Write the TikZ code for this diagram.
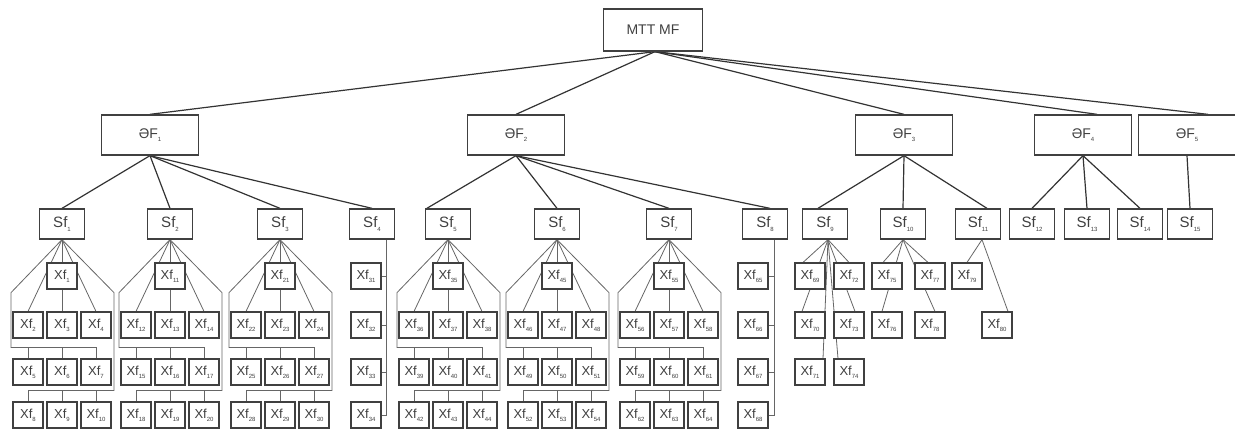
\documentclass[tikz,border=0pt]{standalone}
\usepackage{fontspec}
\setmainfont{Liberation Sans}
\usetikzlibrary{calc, backgrounds}
\newcommand{\sub}[1]{\raisebox{-0.45ex}{\fontsize{6}{6}\selectfont #1}}

\begin{document}
\begin{tikzpicture}[x=1pt, y=-1pt,
    box/.style = {draw=black!75, line width=1.3pt, fill=white, inner sep=0pt, text=black!75},
    top/.style = {box, minimum width=99, minimum height=42, font=\fontsize{14}{16}\selectfont},
    ef/.style = {box, minimum width=97, minimum height=40, font=\fontsize{14}{16}\selectfont},
    sf/.style = {box, minimum width=45, minimum height=30, font=\fontsize{15}{16}\selectfont},
    xf/.style = {box, line width=1.1pt, minimum width=30, minimum height=26, font=\fontsize{13}{14}\selectfont},
    link/.style = {draw=black!80, line width=1.2pt},
    twig/.style = {draw=black!60, line width=0.8pt}]
	\useasboundingbox (0,0) rectangle (1235,430);
	% levels 1 and 2
	\node[top] (m) at (653,30) {MTT MF};
	\node[ef] (e1) at (150,135) {ƏF\sub{1}};
	\node[ef] (e2) at (516,135) {ƏF\sub{2}};
	\node[ef] (e3) at (904,135) {ƏF\sub{3}};
	\node[ef] (e4) at (1083,135) {ƏF\sub{4}};
	\node[ef] (e5) at (1187,135) {ƏF\sub{5}};
	% groups with two brackets
	\foreach \cx/\s/\n in {62/1/1, 170/2/11, 280/3/21, 448/5/35, 557/6/45, 669/7/55} {
		\node[sf] (s\s) at (\cx,224) {Sf\sub{\s}};
		\foreach \k/\dx/\yy in {0/0/276, 1/-34/325, 2/0/325, 3/34/325, 4/-34/372, 5/0/372, 6/34/372, 7/-34/415, 8/0/415, 9/34/415} {
			\pgfmathtruncatemacro\i{\n+\k}
			\node[xf] (x\i) at ({\cx+(\dx)},\yy) {Xf\sub{\i}};
		}
	}
	% column groups
	\node[sf] (s4) at (372,224) {Sf\sub{4}};
	\foreach \i/\yy in {31/276, 32/325, 33/372, 34/415}
		\node[xf] (x\i) at (366,\yy) {Xf\sub{\i}};
	\node[sf] (s8) at (765,224) {Sf\sub{8}};
	\foreach \i/\yy in {65/276, 66/325, 67/372, 68/415}
		\node[xf] (x\i) at (753,\yy) {Xf\sub{\i}};
	% small groups
	\node[sf] (s9) at (825,224) {Sf\sub{9}};
	\node[xf] (x69) at (810,276) {Xf\sub{69}};
	\node[xf] (x70) at (810,325) {Xf\sub{70}};
	\node[xf] (x71) at (810,372) {Xf\sub{71}};
	\node[xf] (x72) at (849,276) {Xf\sub{72}};
	\node[xf] (x73) at (849,325) {Xf\sub{73}};
	\node[xf] (x74) at (849,372) {Xf\sub{74}};
	\node[sf] (s10) at (903,224) {Sf\sub{10}};
	\node[xf] (x75) at (887,276) {Xf\sub{75}};
	\node[xf] (x76) at (887,325) {Xf\sub{76}};
	\node[xf] (x77) at (930,276) {Xf\sub{77}};
	\node[xf] (x78) at (930,325) {Xf\sub{78}};
	\node[sf] (s11) at (978,224) {Sf\sub{11}};
	\node[xf] (x79) at (967,276) {Xf\sub{79}};
	\node[xf] (x80) at (997,325) {Xf\sub{80}};
	\node[sf] (s12) at (1032,224) {Sf\sub{12}};
	\node[sf] (s13) at (1087,224) {Sf\sub{13}};
	\node[sf] (s14) at (1140,224) {Sf\sub{14}};
	\node[sf] (s15) at (1190,224) {Sf\sub{15}};

	\begin{pgfonlayer}{background}
	% upper links
	\draw[link] ([xshift=2]m.south) -- (e1.north);
	\draw[link] ([xshift=2]m.south) -- (e2.north);
	\draw[link] ([xshift=2]m.south) -- (e3.north);
	\draw[link] ([xshift=2]m.south) -- ([xshift=14]e4.north);
	\draw[link] ([xshift=2]m.south) -- ([xshift=21]e5.north);
	\foreach \s in {1,...,4} \draw[link] (e1.south) -- (s\s.north);
	\draw[link] (e2.south) -- ([xshift=2]s5.north west);
	\foreach \s in {6,7} \draw[link] (e2.south) -- (s\s.north);
	\draw[link] (e2.south) -- ([xshift=5]s8.north);
	\draw[link] (e3.south) -- ([xshift=-7]s9.north);
	\draw[link] (e3.south) -- (s10.north);
	\draw[link] (e3.south) -- ([xshift=9]s11.north);
	\foreach \s in {12,13,14} \draw[link] (e4.south) -- (s\s.north);
	\draw[link] (e5.south) -- (s15.north);
	% brackets
	\foreach \s/\n in {1/1, 2/11, 3/21, 5/35, 6/45, 7/55} {
		\foreach \k in {1,2,3} {
			\pgfmathtruncatemacro\i{\n+\k}
			\draw[twig] (s\s.south) -- (x\i.north);
		}
		\pgfmathtruncatemacro\r{\n+6}
		\pgfmathtruncatemacro\l{\n+7}
		\draw[twig] (s\s.south) -- ++(-51,53) |- ($(x\r.north)+(0,-11)$);
		\draw[twig] (s\s.south) -- ++(52,53) |- ($(x\l.north)+(0,-11)$);
		\foreach \k in {4,...,9} {
			\pgfmathtruncatemacro\i{\n+\k}
			\draw[twig] (x\i.north) -- ++(0,-11);
		}
	}
	\foreach \i in {31,...,34} \draw[twig] ([xshift=14]s4.south) |- (x\i.east);
	\foreach \i in {65,...,68} \draw[twig] ([xshift=9]s8.south) |- (x\i.east);
	\draw[twig] ([xshift=3]s9.south) -- ([xshift=-7]x69.north);
	\draw[twig] ([xshift=3]s9.south) -- ([xshift=-8]x70.north);
	\draw[twig] ([xshift=3]s9.south) -- ([xshift=13]x71.north);
	\draw[twig] ([xshift=3]s9.south) -- (x72.north);
	\draw[twig] ([xshift=3]s9.south) -- ([xshift=6]x73.north);
	\draw[twig] ([xshift=3]s9.south) -- ([xshift=-11]x74.north);
	\draw[twig] (s10.south) -- ([xshift=-4]x75.north);
	\draw[twig] (s10.south) -- ([xshift=-5]x76.north);
	\draw[twig] (s10.south) -- ([xshift=-2]x77.north);
	\draw[twig] (s10.south) -- ([xshift=5]x78.north);
	\draw[twig] ([xshift=4]s11.south) -- (x79.north);
	\draw[twig] ([xshift=4]s11.south) -- ([xshift=11]x80.north);
	\end{pgfonlayer}
\end{tikzpicture}
\end{document}
